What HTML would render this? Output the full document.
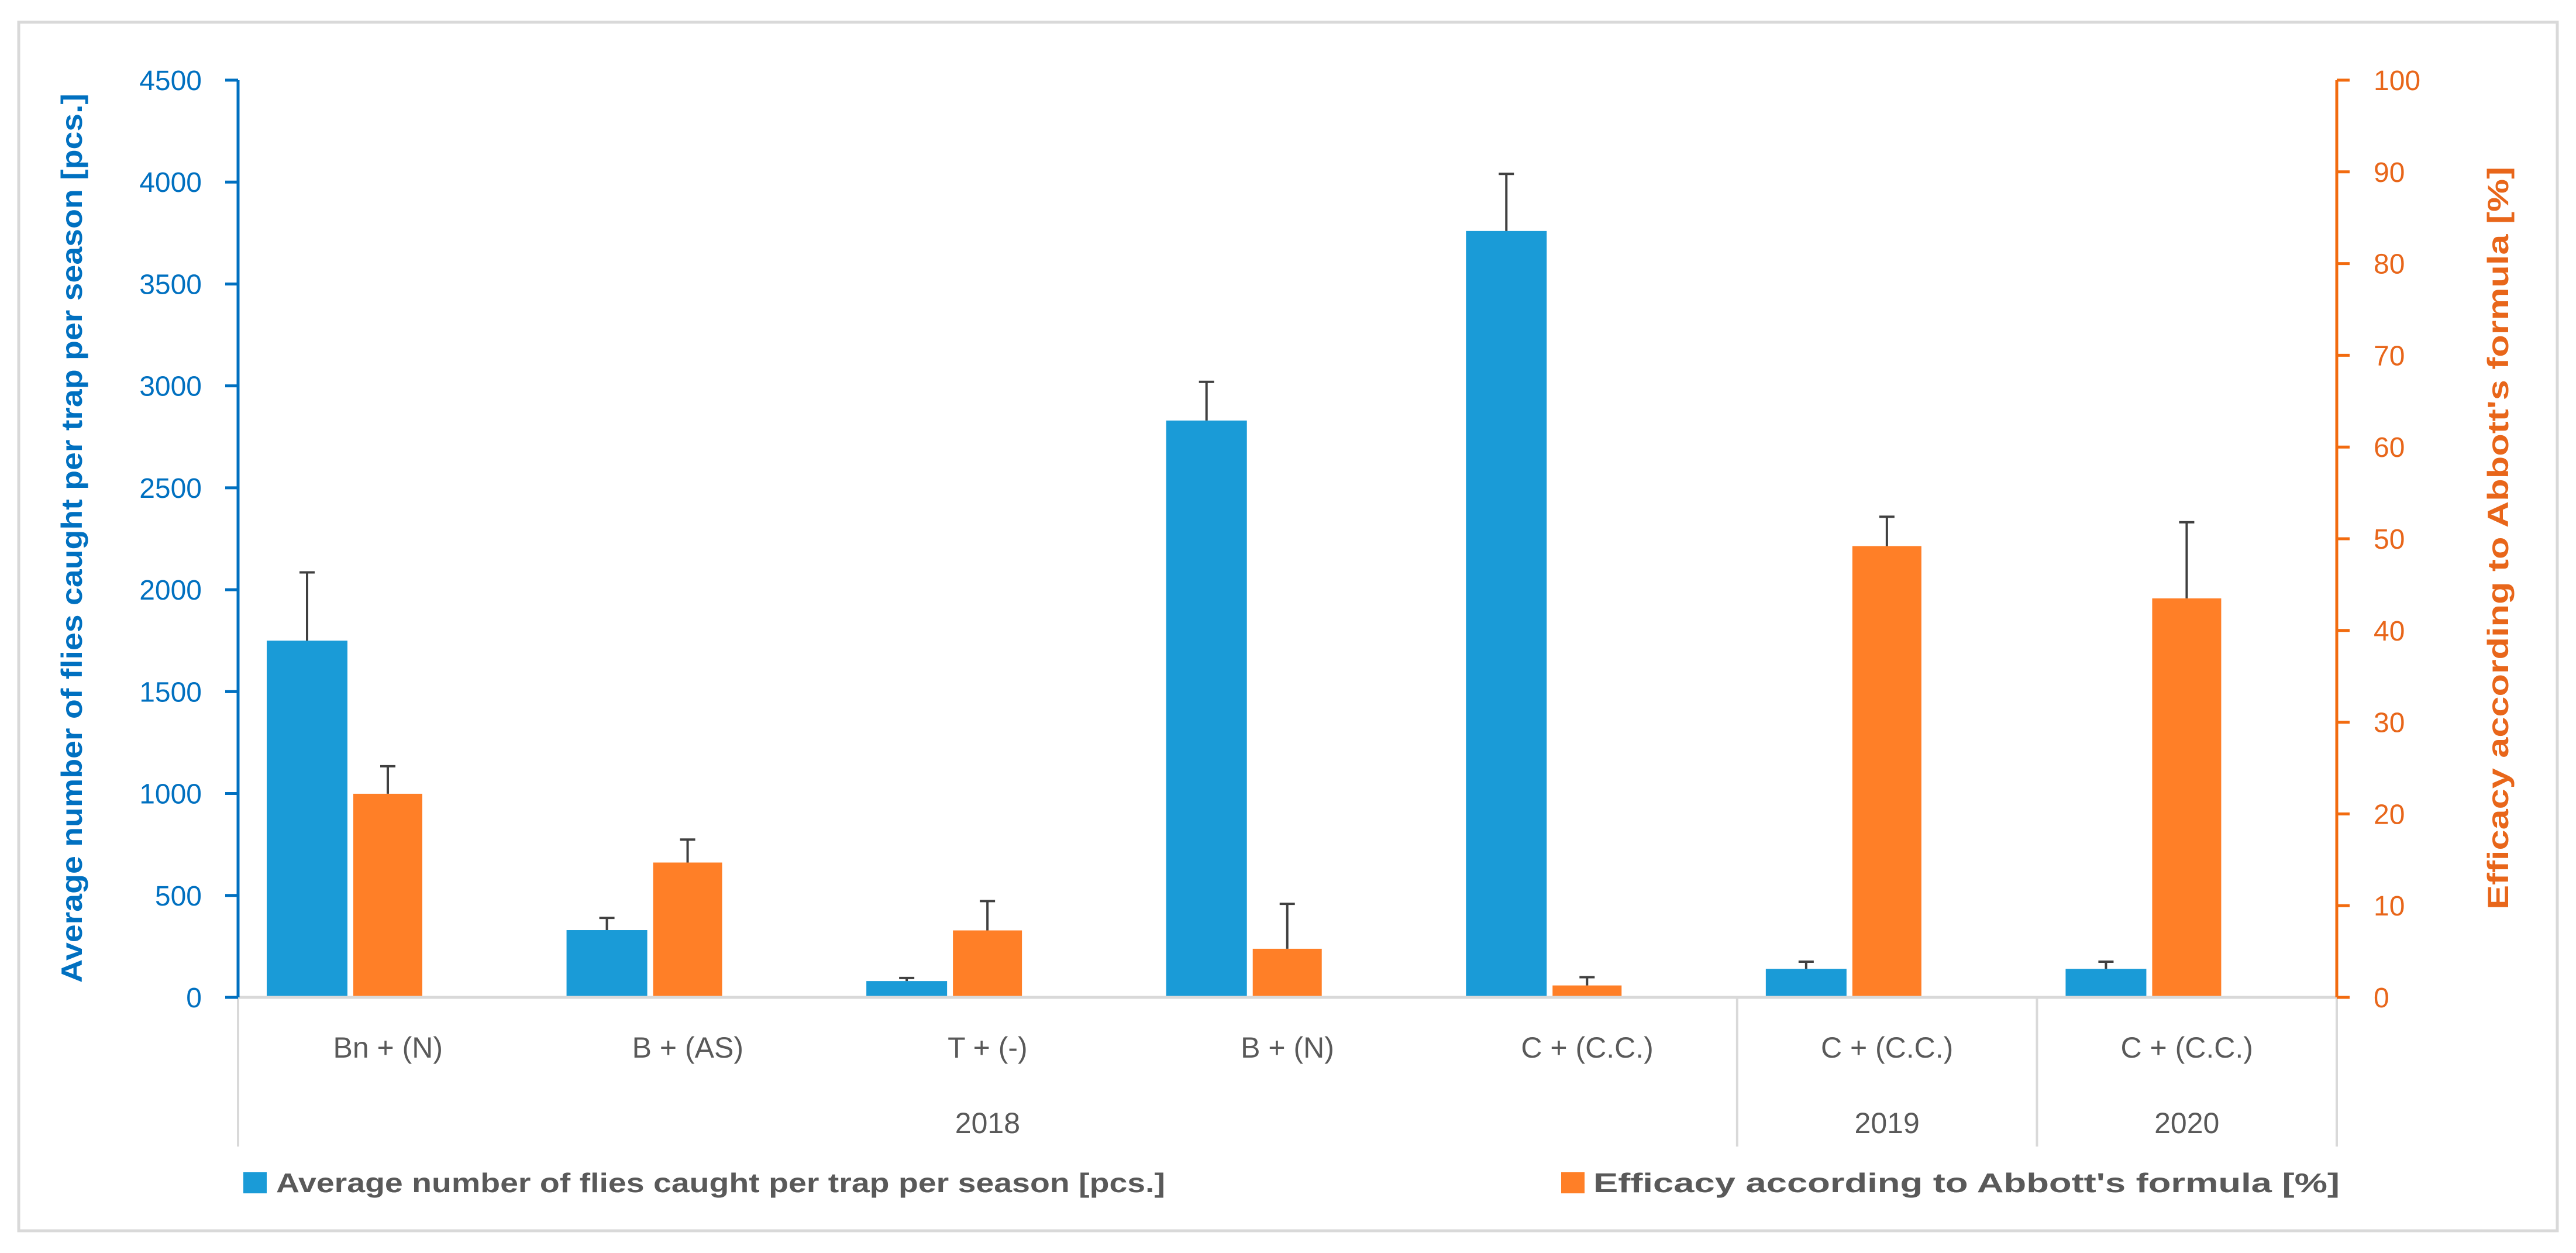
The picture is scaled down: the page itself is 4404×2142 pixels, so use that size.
<!DOCTYPE html>
<html><head><meta charset="utf-8"><style>
html,body{margin:0;padding:0;background:#fff;}
svg{display:block;}
text{font-family:"Liberation Sans",sans-serif;}
.cond{font-family:"Liberation Sans Narrow","Liberation Sans",sans-serif;}
</style></head><body>
<svg id="chart" width="4404" height="2142" viewBox="0 0 4404 2142" xmlns="http://www.w3.org/2000/svg">
<rect x="32" y="38" width="4340" height="2066" fill="#fff" stroke="#d9d9d9" stroke-width="5"/>
<g id="plot"></g>
</svg>
<script>
const categories = ["Bn + (N)","B + (AS)","T + (-)","B + (N)","C + (C.C.)","C + (C.C.)","C + (C.C.)"];
const flies = [1750, 330, 80, 2830, 3760, 140, 140];
const fliesErr = [335, 60, 15, 190, 280, 35, 35];
const efficacy = [22.2, 14.7, 7.3, 5.3, 1.3, 49.2, 43.5];
const efficacyErr = [3.0, 2.5, 3.2, 4.9, 0.9, 3.2, 8.3];
const leftTicks = [0,500,1000,1500,2000,2500,3000,3500,4000,4500];
const rightTicks = [0,10,20,30,40,50,60,70,80,90,100];
const years = ["2018","2019","2020"];
const yearSpans = [5,1,1];

const NS="http://www.w3.org/2000/svg";
const g=document.getElementById('plot');
const X0=407, X1=3995, Y0=1705, YT=137;
const catW=(X1-X0)/categories.length;
const yL=v=>Y0-(v/4500)*(Y0-YT);
const yR=v=>Y0-(v/100)*(Y0-YT);
function mk(tag,attrs,text){const e=document.createElementNS(NS,tag);for(const k in attrs)e.setAttribute(k,attrs[k]);if(text!==undefined)e.textContent=text;g.appendChild(e);return e;}

categories.forEach((c,i)=>{
  const sx=X0+i*catW;
  let e=mk('rect',{x:sx+49,y:yL(flies[i]),width:138,height:Y0-yL(flies[i]),fill:'#1A9BD7'});
  
  
  e=mk('rect',{x:sx+197,y:yR(efficacy[i]),width:118,height:Y0-yR(efficacy[i]),fill:'#FF7F27'});
  
  
  const bx=sx+49+69, ox=sx+197+59;
  const t1=yL(flies[i]+fliesErr[i]);
  e=mk('path',{d:`M${bx},${yL(flies[i])}V${t1}M${bx-13},${t1}H${bx+13}`,stroke:'#404040','stroke-width':4,fill:'none'});
  
  
  const t2=yR(efficacy[i]+efficacyErr[i]);
  e=mk('path',{d:`M${ox},${yR(efficacy[i])}V${t2}M${ox-13},${t2}H${ox+13}`,stroke:'#404040','stroke-width':4,fill:'none'});
  
  
  e=mk('text',{x:sx+catW/2,y:1808,'text-anchor':'middle','font-size':50,fill:'#595959'},c);
  
  
});

let e=mk('line',{x1:X0,y1:Y0,x2:X1,y2:Y0,stroke:'#d9d9d9','stroke-width':5});


let acc=0;
const divs=[0];
yearSpans.forEach(s=>{acc+=s;divs.push(acc);});
divs.forEach(d=>{
  const x=X0+d*catW;
  const el=mk('line',{x1:x,y1:Y0,x2:x,y2:1960,stroke:'#d9d9d9','stroke-width':4});
  
  
});
years.forEach((y,i)=>{
  const cx=X0+(divs[i]+divs[i+1])/2*catW;
  const el=mk('text',{x:cx,y:1937,'text-anchor':'middle','font-size':50,fill:'#595959'},y);
  
  
});

e=mk('line',{x1:X0,y1:YT,x2:X0,y2:Y0,stroke:'#0070C0','stroke-width':5});


leftTicks.forEach(t=>{
  const y=yL(t);
  let el=mk('line',{x1:X0-22,y1:y,x2:X0,y2:y,stroke:'#0070C0','stroke-width':5});
  
  
  el=mk('text',{x:345,y:y+17,'text-anchor':'end','font-size':48,fill:'#0070C0'},t);
  
  
});
e=mk('text',{transform:'translate(140,920) rotate(-90)','text-anchor':'middle','font-size':50,'font-weight':'bold',fill:'#0070C0','class':'cond',textLength:1520,lengthAdjust:'spacingAndGlyphs'},'Average number of flies caught per trap per season [pcs.]');



e=mk('line',{x1:X1,y1:YT,x2:X1,y2:Y0,stroke:'#F26B0F','stroke-width':5});


rightTicks.forEach(t=>{
  const y=yR(t);
  let el=mk('line',{x1:X1,y1:y,x2:X1+22,y2:y,stroke:'#F26B0F','stroke-width':5});
  
  
  el=mk('text',{x:4058,y:y+17,'text-anchor':'start','font-size':48,fill:'#E8661A'},t);
  
  
});
e=mk('text',{transform:'translate(4288,920) rotate(-90)','text-anchor':'middle','font-size':50,'font-weight':'bold',fill:'#E8661A','class':'cond',textLength:1270,lengthAdjust:'spacingAndGlyphs'},"Efficacy according to Abbott's formula [%]");



e=mk('rect',{x:416,y:2004,width:40,height:36,fill:'#1A9BD7'});


e=mk('text',{x:472,y:2038,'font-size':46,'font-weight':'bold',fill:'#595959',textLength:1520,lengthAdjust:'spacingAndGlyphs'},'Average number of flies caught per trap per season [pcs.]');


e=mk('rect',{x:2669,y:2004,width:40,height:36,fill:'#FF7F27'});


e=mk('text',{x:2724,y:2038,'font-size':46,'font-weight':'bold',fill:'#595959',textLength:1276,lengthAdjust:'spacingAndGlyphs'},"Efficacy according to Abbott's formula [%]");


</script>
</body></html>
